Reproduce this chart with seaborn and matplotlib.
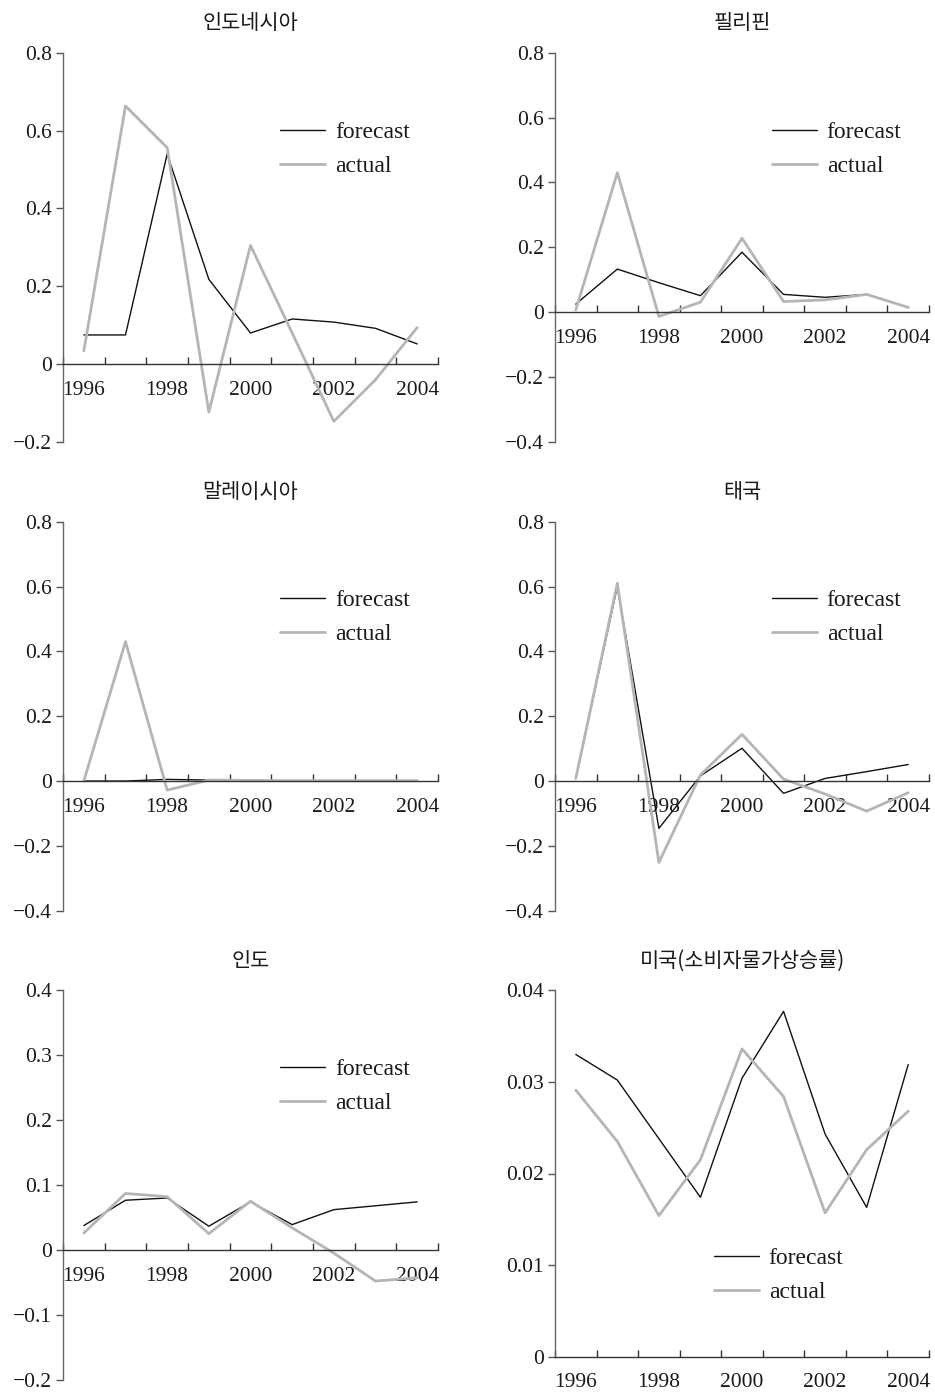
import numpy as np
import pandas as pd
import matplotlib
matplotlib.use("Agg")
import matplotlib.pyplot as plt
from matplotlib.ticker import FixedLocator, FixedFormatter, NullFormatter
import seaborn as sns

# ---- data -------------------------------------------------------------
years = [1996, 1997, 1998, 1999, 2000, 2001, 2002, 2003, 2004]

titles = ["인도네시아", "필리핀", "말레이시아", "태국", "인도", "미국(소비자물가상승률)"]

indonesia_forecast = [0.075, 0.075, 0.54, 0.218, 0.08, 0.116, 0.108, 0.092, 0.052]
indonesia_actual = [0.034, 0.663, 0.556, -0.123, 0.305, 0.08, -0.147, -0.04, 0.094]

philippines_forecast = [0.025, 0.133, 0.091, 0.051, 0.185, 0.055, 0.046, 0.055, 0.015]
philippines_actual = [0.007, 0.43, -0.013, 0.031, 0.228, 0.033, 0.038, 0.055, 0.015]

malaysia_forecast = [0.0, 0.0, 0.005, 0.003, 0.001, 0.001, 0.001, 0.001, 0.001]
malaysia_actual = [0.0, 0.43, -0.028, 0.003, 0.002, 0.001, 0.001, 0.001, 0.001]

thailand_forecast = [0.008, 0.60, -0.146, 0.016, 0.101, -0.038, 0.008, 0.029, 0.051]
thailand_actual = [0.008, 0.61, -0.251, 0.019, 0.144, 0.006, -0.04, -0.093, -0.036]

india_forecast = [0.0375, 0.0765, 0.08, 0.0365, 0.074, 0.039, 0.062, 0.068, 0.074]
india_actual = [0.026, 0.087, 0.082, 0.025, 0.075, 0.034, -0.005, -0.048, -0.043]

usa_forecast = [0.0330, 0.0302, 0.0238, 0.0174, 0.0304, 0.0377, 0.0243, 0.0163, 0.0319]
usa_actual = [0.0291, 0.0235, 0.0154, 0.0215, 0.0336, 0.0284, 0.0157, 0.0226, 0.0268]

series_names = ["forecast", "actual"]

ytick_values = [
    [-0.2, 0.0, 0.2, 0.4, 0.6, 0.8],
    [-0.4, -0.2, 0.0, 0.2, 0.4, 0.6, 0.8],
    [-0.4, -0.2, 0.0, 0.2, 0.4, 0.6, 0.8],
    [-0.4, -0.2, 0.0, 0.2, 0.4, 0.6, 0.8],
    [-0.2, -0.1, 0.0, 0.1, 0.2, 0.3, 0.4],
    [0.0, 0.01, 0.02, 0.03, 0.04],
]
ytick_labels = [
    ["\u22120.2", "0", "0.2", "0.4", "0.6", "0.8"],
    ["\u22120.4", "\u22120.2", "0", "0.2", "0.4", "0.6", "0.8"],
    ["\u22120.4", "\u22120.2", "0", "0.2", "0.4", "0.6", "0.8"],
    ["\u22120.4", "\u22120.2", "0", "0.2", "0.4", "0.6", "0.8"],
    ["\u22120.2", "\u22120.1", "0", "0.1", "0.2", "0.3", "0.4"],
    ["0", "0.01", "0.02", "0.03", "0.04"],
]
xtick_labels = ["1996", "1998", "2000", "2002", "2004"]

panels = [
    (indonesia_forecast, indonesia_actual),
    (philippines_forecast, philippines_actual),
    (malaysia_forecast, malaysia_actual),
    (thailand_forecast, thailand_actual),
    (india_forecast, india_actual),
    (usa_forecast, usa_actual),
]

# ---- layout -----------------------------------------------------------
W, H = 935, 1393
col_x = [(63, 438), (555, 929)]
row_y = [(52.7, 442.0), (52.7, 442.0),
         (521.7, 910.7), (521.7, 910.7),
         (990.3, 1379.7), (990.3, 1356.7)]
legend_anchor = [(0.579, 0.823), (0.580, 0.823),
                 (0.579, 0.825), (0.580, 0.825),
                 (0.579, 0.824), (0.425, 0.298)]

sns.set_theme(style="white")
plt.rcParams["font.family"] = ["Liberation Serif", "Noto Sans CJK KR"]
plt.rcParams["axes.unicode_minus"] = True

fig = plt.figure(figsize=(W / 100, H / 100), dpi=100)
fig.patch.set_facecolor("white")

colors = {"forecast": "#111111", "actual": "#b5b5b5"}
widths = {"forecast": 1.0, "actual": 2.0}
text_color = "#1a1a1a"

for i, (fc, ac) in enumerate(panels):
    x0, x1 = col_x[i % 2]
    top, bottom = row_y[i]
    ax = fig.add_axes([x0 / W, 1 - bottom / H, (x1 - x0) / W, (bottom - top) / H])
    ax.set_facecolor("white")

    df = pd.DataFrame({"year": years * 2,
                       "value": fc + ac,
                       "series": ["forecast"] * len(years) + ["actual"] * len(years)})
    for name in series_names:
        sub = df[df["series"] == name]
        sns.lineplot(data=sub, x="year", y="value", ax=ax, label=name,
                     color=colors[name], linewidth=widths[name], legend=False)

    yv = ytick_values[i]
    ax.set_ylim(yv[0], yv[-1])
    ax.set_xlim(years[0] - 0.5, years[-1] + 0.5)
    ax.set_xlabel("")
    ax.set_ylabel("")

    # spines
    ax.spines["top"].set_visible(False)
    ax.spines["right"].set_visible(False)
    ax.spines["bottom"].set_position(("data", 0))
    ax.spines["bottom"].set_color("#333333")
    ax.spines["bottom"].set_linewidth(1.0)
    ax.spines["left"].set_color("#666666")
    ax.spines["left"].set_linewidth(1.0)

    # y ticks
    ax.yaxis.set_major_locator(FixedLocator(yv))
    ax.yaxis.set_major_formatter(FixedFormatter(ytick_labels[i]))
    ax.tick_params(axis="y", which="major", direction="out", length=5,
                   width=1.0, color="#555555", labelsize=15.5, pad=3,
                   labelcolor=text_color, left=True)

    # x ticks: boundary ticks pointing upward, labels at category centres
    bounds = [y - 0.5 for y in years] + [years[-1] + 0.5]
    ax.xaxis.set_major_locator(FixedLocator(bounds))
    ax.xaxis.set_major_formatter(NullFormatter())
    ax.xaxis.set_minor_locator(FixedLocator([1996, 1998, 2000, 2002, 2004]))
    ax.xaxis.set_minor_formatter(FixedFormatter(xtick_labels))
    ax.tick_params(axis="x", which="major", direction="in", length=5,
                   width=1.0, color="#333333", bottom=True)
    ax.tick_params(axis="x", which="minor", length=0, labelsize=15.5,
                   pad=12, labelcolor=text_color, bottom=True)

    ax.set_title(titles[i], fontsize=15, pad=17, color=text_color,
                 family=["Noto Sans CJK KR", "Liberation Serif"])

    handles, labels = ax.get_legend_handles_labels()
    ax.legend(handles, labels, loc="upper left", bbox_to_anchor=legend_anchor[i],
              frameon=False, fontsize=17, handlelength=1.9, handletextpad=0.42,
              labelspacing=0.52, borderpad=0, borderaxespad=0,
              labelcolor=text_color)

fig.savefig("out.png", dpi=100, facecolor="white")
